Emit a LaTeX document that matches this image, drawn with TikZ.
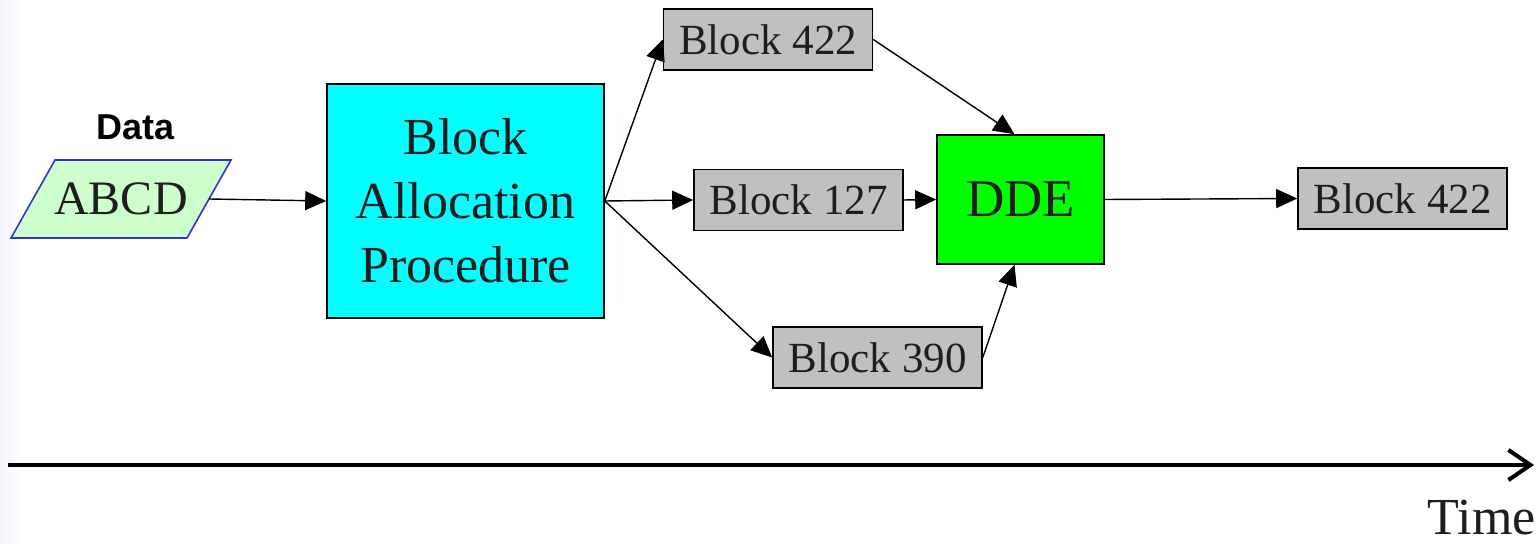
\documentclass[tikz,border=0pt]{standalone}
\usepackage{fontspec}
\setmainfont{Liberation Serif}
\newfontfamily\labelsans{Liberation Sans}
\usepackage{tikz}
\usetikzlibrary{shapes.geometric, arrows.meta, positioning, calc}

\definecolor{blockgray}{HTML}{C0C0C0}
\definecolor{procblue}{HTML}{00FFFF}
\definecolor{ddegreen}{HTML}{00FF00}
\definecolor{datafill}{HTML}{CCFFCC}
\definecolor{dataline}{HTML}{3333CC}
\definecolor{edgetint}{HTML}{F3F3FA}
\definecolor{inktext}{HTML}{1E1E1E}

\begin{document}
\begin{tikzpicture}[
  x=0.5pt, y=-0.5pt,
  every node/.style={font=\fontsize{21.5}{25}\selectfont, text=inktext},
  blockbox/.style={rectangle, draw=black, line width=0.8pt, fill=blockgray, inner sep=0pt, minimum width=104.5pt, minimum height=30.5pt},
  procbox/.style={rectangle, draw=black, line width=0.8pt, inner sep=0pt, align=center},
  dataframe/.style={draw=dataline, line width=0.8pt, fill=datafill},
  arrow/.style={-{Triangle[length=10.5pt, width=9.5pt]}, line width=0.7pt},
  timearrow/.style={-{Straight Barb[length=11pt, width=15pt]}, line width=2pt}
]
\useasboundingbox (0,0) rectangle (1538,544);
\shade[left color=edgetint, right color=white] (0,0) rectangle (22,544);

% Input data (parallelogram drawn under its label)
\node[font=\labelsans\bfseries\fontsize{18}{21}\selectfont, text=black] (datalbl) at (136,127) {Data};
\draw[dataframe] (11,238) -- (187,238) -- (231,160) -- (55,160) -- cycle;
\node[font=\fontsize{24}{28}\selectfont] (abcd) at (121,199) {ABCD};
\coordinate (abcdout) at (209,199);

% Allocation step
\node[procbox, fill=procblue, minimum width=138.5pt, minimum height=117pt,
      font=\fontsize{26}{32}\selectfont] (bap) at (465.5,201) {Block\\ Allocation\\ Procedure};

% Allocated blocks
\node[blockbox] (blkA) at (768,39.5) {Block 422};
\node[blockbox] (blkB) at (798.5,200) {Block 127};
\node[blockbox] (blkC) at (877.5,357.5) {Block 390};

% Dedup engine and result
\node[procbox, fill=ddegreen, minimum width=83.5pt, minimum height=64.5pt,
      font=\fontsize{26.5}{30}\selectfont] (dde) at (1020.5,199.5) {DDE};
\node[blockbox] (blkOut) at (1402.5,198.5) {Block 422};

% Arrows
\draw[arrow] (abcdout) -- (bap.west);
\draw[arrow] (bap.east) -- (blkA.west);
\draw[arrow] (bap.east) -- (blkB.west);
\draw[arrow] (bap.east) -- (blkC.west);
\draw[arrow] (blkA.east) -- ([xshift=-3pt]dde.north);
\draw[arrow] (blkB.east) -- (dde.west);
\draw[arrow] (blkC.east) -- ([xshift=-3pt]dde.south);
\draw[arrow] (dde.east) -- (blkOut.west);

% Time axis
\coordinate (t0) at (8,465);
\coordinate (t1) at (1534,465);
\draw[timearrow] (t0) -- (t1);
\node[anchor=base east, inner sep=0pt, font=\fontsize{26}{30}\selectfont] (timelbl) at (1536,535) {Time};

\end{tikzpicture}
\end{document}
